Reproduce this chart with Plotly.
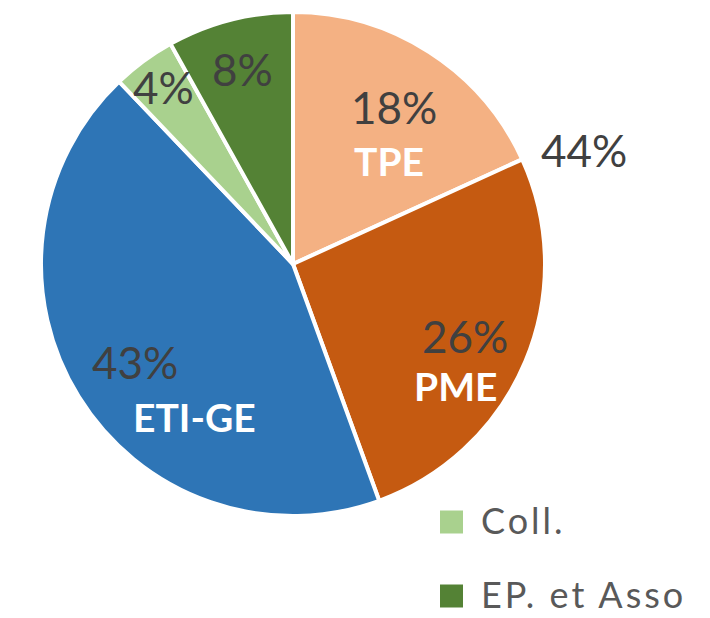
import math
import plotly.graph_objects as go

labels = ["TPE", "PME", "ETI-GE", "Coll.", "EP. et Asso"]
values = [18, 26, 43, 4, 8]
colors = ["#F4B183", "#C55A11", "#2E75B6", "#A9D18E", "#548235"]
show_name = [True, True, True, False, False]
legend_items = ["Coll.", "EP. et Asso"]
group_label = "44%"

# style: radial position of the % label (fraction of radius) and offset of the name label (px)
label_radius = [0.74, 0.74, 0.74, 0.87, 0.80]
name_offset = [(-5, 54), (-10, 50), (60, 55), (0, 0), (0, 0)]

W, H = 710, 618
CX, CY, R = 293, 264, 252  # pie centre/radius in px

fig = go.Figure()
fig.add_trace(go.Pie(
    labels=labels, values=values, sort=False, direction="clockwise", rotation=0,
    marker=dict(colors=colors, line=dict(color="white", width=4)),
    textinfo="none", showlegend=False, hoverinfo="skip",
    domain=dict(x=[(CX - R) / W, (CX + R) / W], y=[1 - (CY + R) / H, 1 - (CY - R) / H]),
))

total = sum(values)
cum = 0
for lab, v, s, f, off in zip(labels, values, show_name, label_radius, name_offset):
    mid = (cum + v / 2) / total * 2 * math.pi
    cum += v
    px = CX + R * f * math.sin(mid)
    py = CY - R * f * math.cos(mid)
    fig.add_annotation(text=f"{v}%", x=px / W, y=1 - py / H, xref="paper", yref="paper",
                       xanchor="center", yanchor="middle", showarrow=False,
                       font=dict(family="Lato", size=44, color="#404040"))
    if s:
        fig.add_annotation(text=f"<b>{lab}</b>", x=(px + off[0]) / W, y=1 - (py + off[1]) / H,
                           xref="paper", yref="paper", xanchor="center", yanchor="middle",
                           showarrow=False, font=dict(family="Lato", size=39, color="white"))

fig.add_annotation(text=group_label, x=584 / W, y=1 - 150 / H, xref="paper", yref="paper",
                   xanchor="center", yanchor="middle", showarrow=False,
                   font=dict(family="Lato", size=44, color="#404040"))

# legend (manual, for large square keys)
leg_rows = [522, 596]
for lab, yc in zip(legend_items, leg_rows):
    c = colors[labels.index(lab)]
    fig.add_shape(type="rect", xref="paper", yref="paper",
                  x0=440 / W, x1=463 / W, y0=1 - (yc + 11.5) / H, y1=1 - (yc - 11.5) / H,
                  fillcolor=c, line=dict(width=0))
    fig.add_annotation(text=f"<span style='letter-spacing:3px'>{lab}</span>",
                       x=479 / W, y=1 - (yc - 2) / H, xref="paper", yref="paper",
                       xanchor="left", yanchor="middle", showarrow=False,
                       font=dict(family="Lato", size=36, color="#595959"))

fig.update_layout(
    width=W, height=H, margin=dict(l=0, r=0, t=0, b=0),
    paper_bgcolor="white", plot_bgcolor="white",
)
fig.write_html("out.html", config={"displayModeBar": False},
               post_script="document.body.style.margin='0';")
